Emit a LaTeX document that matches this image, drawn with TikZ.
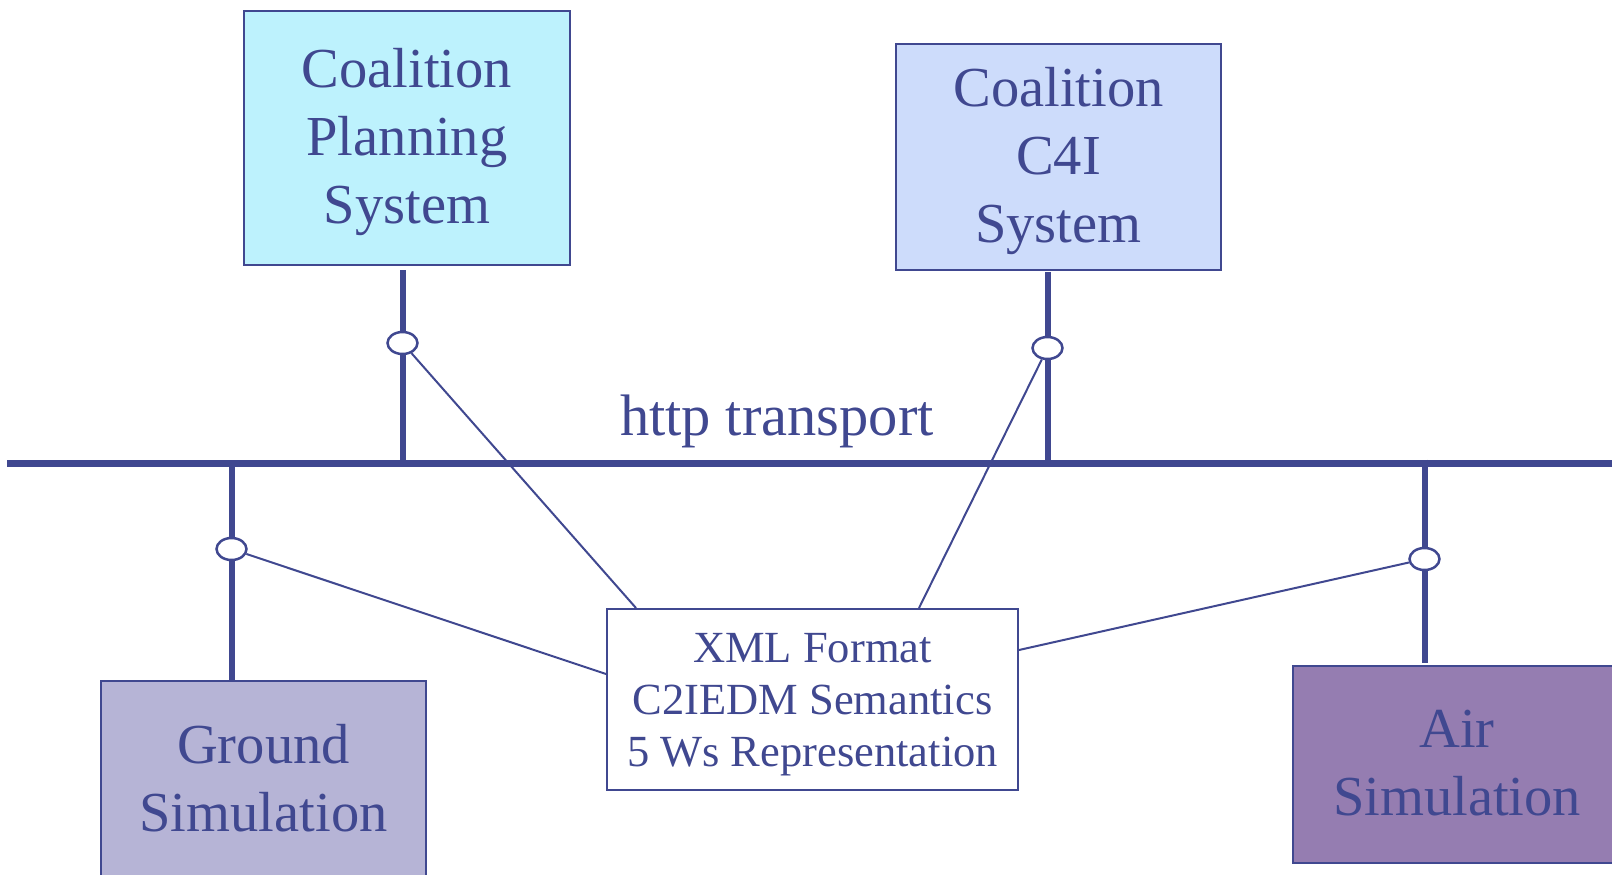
\documentclass[tikz,border=0pt]{standalone}
\usepackage{fontspec}
\setmainfont{Liberation Serif}
\usetikzlibrary{shapes.geometric,calc}
\definecolor{navy}{RGB}{64,72,144}
\definecolor{cpsfill}{RGB}{189,242,253}
\definecolor{cfourfill}{RGB}{205,220,251}
\definecolor{gndfill}{RGB}{182,180,214}
\definecolor{airfill}{RGB}{149,125,177}
\begin{document}
\begin{tikzpicture}[x=1pt,y=-1pt,
  box/.style={draw=navy, line width=1.5pt, inner sep=0pt, outer sep=0pt},
  lbl/.style={text=navy, align=center, inner sep=0pt, font=\fontsize{56.5}{68}\selectfont},
  xmllbl/.style={text=navy, align=center, inner sep=0pt, font=\fontsize{44.5}{52}\selectfont},
  stem/.style={draw=navy, line width=6pt},
  bus/.style={draw=navy, line width=7pt},
  thin/.style={draw=navy, line width=2pt},
  port/.style={ellipse, draw=navy, fill=white, line width=2.5pt, minimum width=30pt, minimum height=22pt, inner sep=0pt}]
\useasboundingbox (0,0) rectangle (1612,875);
% boxes
\node[box, fill=cpsfill, minimum width=326pt, minimum height=254pt] (cps) at (407,138) {};
\node[box, fill=cfourfill, minimum width=325pt, minimum height=226pt] (c4i) at (1058.5,157) {};
\node[box, fill=gndfill, minimum width=325pt, minimum height=218pt] (gnd) at (263.5,790) {};
\node[box, fill=airfill, minimum width=328pt, minimum height=197pt] (air) at (1457,764.5) {};
\node[draw=navy, line width=2pt, fill=white, inner sep=0pt, minimum width=411pt, minimum height=181pt] (xml) at (812.5,699.5) {};
% bus
\coordinate (busL) at (7,463.5);
\coordinate (busR) at (1612,463.5);
% ports
\coordinate (cpsP) at (402.5,343);
\coordinate (c4iP) at (1047.5,348);
\coordinate (gndP) at (231.5,549);
\coordinate (airP) at (1424.5,559);
% stems
\draw[stem] ($(cps.south -| cpsP)+(0,5)$) -- (cpsP |- busL);
\draw[stem] ($(c4i.south -| c4iP)+(0,2)$) -- (c4iP |- busL);
\draw[stem] (gndP |- busL) -- (gnd.north -| gndP);
\draw[stem] ($(airP |- busL)+(0,-4)$) -- ($(air.north -| airP)+(0,-3)$);
\draw[bus] (busL) -- (busR);
\node[port] (cpsE) at (cpsP) {};
\node[port] (c4iE) at (c4iP) {};
\node[port] (gndE) at (gndP) {};
\node[port] (airE) at (airP) {};
% thin links
\draw[thin] (cpsE) -- ([xshift=30pt]xml.north west);
\draw[thin] (c4iE) -- ([xshift=313pt]xml.north west);
\draw[thin] (gndE) -- ([yshift=-66pt]xml.north west);
\draw[thin] (airE) -- ([yshift=-42pt]xml.north east);
% texts
\node[lbl] (cpsT) at (407,142) {Coalition\\Planning\\System};
\node[lbl] (c4iT) at (1058.5,161) {Coalition\\C4I\\System};
\node[lbl] (gndT) at (263.5,778) {Ground\\Simulation};
\node[lbl] (airT) at (1457,763) {Air\\Simulation};
\node[xmllbl] (xmlT) at (812.5,705) {XML Format\\C2IEDM Semantics\\5 Ws Representation};
\node[lbl, anchor=base, font=\fontsize{58.5}{68}\selectfont] (http) at (777,435) {http transport};
\end{tikzpicture}
\end{document}
